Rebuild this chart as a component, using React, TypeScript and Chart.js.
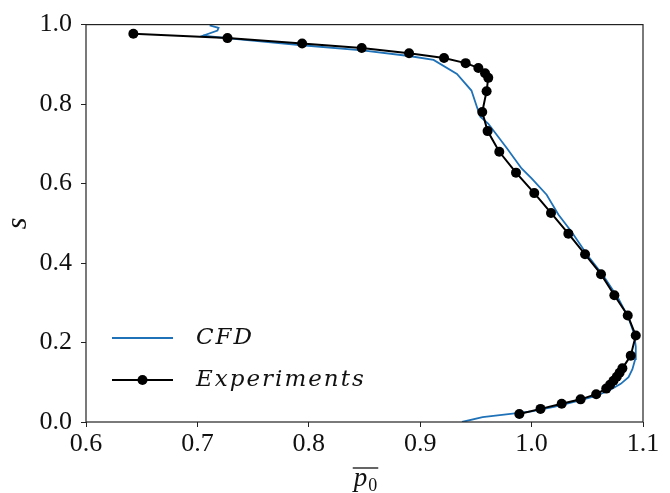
import React, { useEffect, useRef } from "react";
import { Chart, registerables } from "chart.js";

Chart.register(...registerables);

// CFD profile (p0 bar vs s), traced from bottom to top
const cfdX = [0.9375, 0.956, 0.983, 1.0, 1.02, 1.04, 1.057, 1.07, 1.08, 1.087, 1.0905, 1.093, 1.0935, 1.092, 1.087, 1.078, 1.064, 1.05, 1.036, 1.024, 1.0135, 1.0, 0.991, 0.978, 0.961, 0.954, 0.951, 0.946, 0.933, 0.912, 0.89, 0.848, 0.794, 0.74, 0.705, 0.718, 0.719, 0.711];
const cfdY = [0.0, 0.012, 0.021, 0.027, 0.038, 0.052, 0.065, 0.08, 0.096, 0.113, 0.133, 0.158, 0.19, 0.222, 0.262, 0.31, 0.37, 0.42, 0.478, 0.522, 0.572, 0.613, 0.638, 0.688, 0.751, 0.768, 0.792, 0.834, 0.876, 0.911, 0.921, 0.935, 0.948, 0.962, 0.972, 0.985, 0.992, 0.998];

// Experimental points, from bottom to top
const expX = [0.989, 1.008, 1.027, 1.044, 1.058, 1.067, 1.0705, 1.0735, 1.0765, 1.079, 1.0815, 1.089, 1.0935, 1.0863, 1.0743, 1.0623, 1.048, 1.033, 1.0174, 1.0024, 0.986, 0.971, 0.9605, 0.9557, 0.9596, 0.9611, 0.9582, 0.9522, 0.9408, 0.9214, 0.89, 0.8475, 0.794, 0.727, 0.6425];
const expY = [0.02, 0.033, 0.046, 0.057, 0.07, 0.084, 0.094, 0.104, 0.114, 0.124, 0.135, 0.167, 0.2175, 0.268, 0.319, 0.372, 0.422, 0.474, 0.526, 0.576, 0.6275, 0.68, 0.732, 0.78, 0.8325, 0.866, 0.8775, 0.891, 0.903, 0.916, 0.928, 0.941, 0.9525, 0.966, 0.977];

const seriesLabels = ["CFD", "Experiments"];
const xRange = [0.6, 1.1];
const yRange = [0.0, 1.0];
const yAxisLabel = "s";
const xAxisSymbol = "p";
const xAxisSubscript = "0";

const BLUE = "#1f72b8";
const TICK_FONT = { family: "'Liberation Serif', serif", size: 26 };

const framePlugin = {
  id: "frame",
  afterDatasetsDraw(chart: any) {
    const { ctx, chartArea } = chart;
    ctx.save();
    ctx.strokeStyle = "#222";
    ctx.lineWidth = 1.2;
    ctx.strokeRect(chartArea.left, chartArea.top, chartArea.right - chartArea.left, chartArea.bottom - chartArea.top);
    ctx.restore();
  },
};

const legendPlugin = {
  id: "mplLegend",
  afterDraw(chart: any) {
    const { ctx, chartArea } = chart;
    const ds = chart.data.datasets;
    const x0 = chartArea.left + 26;
    const x1 = x0 + 61;
    const tx = x1 + 23;
    const rows = [chartArea.bottom - 84, chartArea.bottom - 42];
    ctx.save();
    ds.forEach((d: any, i: number) => {
      const y = rows[i];
      ctx.strokeStyle = d.borderColor;
      ctx.lineWidth = d.borderWidth;
      ctx.beginPath();
      ctx.moveTo(x0, y);
      ctx.lineTo(x1, y);
      ctx.stroke();
      if (d.pointRadius > 0) {
        ctx.fillStyle = d.pointBackgroundColor;
        ctx.beginPath();
        ctx.arc((x0 + x1) / 2, y, d.pointRadius, 0, Math.PI * 2);
        ctx.fill();
      }
      ctx.fillStyle = "#111";
      ctx.font = "italic 23px 'DejaVu Serif', serif";
      try { (ctx as any).letterSpacing = "2px"; } catch (e) {}
      ctx.textBaseline = "middle";
      ctx.textAlign = "left";
      ctx.fillText(d.label, tx, y);
    });
    ctx.restore();
  },
};

const xTitlePlugin = {
  id: "xTitle",
  afterDraw(chart: any) {
    const { ctx, chartArea } = chart;
    const cx = (chartArea.left + chartArea.right) / 2;
    const base = chartArea.bottom + 64;
    ctx.save();
    ctx.fillStyle = "#111";
    ctx.textBaseline = "alphabetic";
    ctx.textAlign = "left";
    ctx.font = "italic 27px 'Liberation Serif', serif";
    const pw = ctx.measureText(xAxisSymbol).width;
    ctx.font = "18px 'Liberation Serif', serif";
    const sw = ctx.measureText(xAxisSubscript).width;
    const total = pw + 1 + sw;
    const sx = cx - total / 2 + 1;
    ctx.font = "italic 27px 'Liberation Serif', serif";
    ctx.fillText(xAxisSymbol, sx, base);
    ctx.font = "18px 'Liberation Serif', serif";
    ctx.fillText(xAxisSubscript, sx + pw + 1, base + 5);
    ctx.strokeStyle = "#111";
    ctx.lineWidth = 1.3;
    ctx.beginPath();
    ctx.moveTo(sx - 1, base - 18);
    ctx.lineTo(sx + total + 1, base - 18);
    ctx.stroke();
    ctx.restore();
  },
};

export default function App() {
  const ref = useRef<HTMLCanvasElement | null>(null);

  useEffect(() => {
    if (!ref.current) return;
    const chart = new Chart(ref.current, {
      type: "scatter",
      data: {
        datasets: [
          {
            label: seriesLabels[0],
            data: cfdX.map((x, i) => ({ x, y: cfdY[i] })),
            showLine: true,
            borderColor: BLUE,
            backgroundColor: BLUE,
            borderWidth: 1.8,
            pointRadius: 0,
            pointHoverRadius: 0,
            tension: 0,
            order: 2,
          },
          {
            label: seriesLabels[1],
            data: expX.map((x, i) => ({ x, y: expY[i] })),
            showLine: true,
            borderColor: "#000",
            backgroundColor: "#000",
            pointBackgroundColor: "#000",
            pointBorderWidth: 0,
            borderWidth: 2,
            pointRadius: 5,
            tension: 0,
            order: 1,
          },
        ],
      },
      options: {
        animation: false,
        responsive: false,
        layout: { padding: { top: 22, right: 27, left: 0, bottom: 0 } },
        plugins: { legend: { display: false }, tooltip: { enabled: false } },
        scales: {
          x: {
            type: "linear",
            min: xRange[0],
            max: xRange[1],
            afterFit: (s: any) => { s.height = 71; },
            border: { display: false },
            grid: { drawOnChartArea: false, drawTicks: true, tickLength: 5, color: "#222", lineWidth: 1 },
            ticks: {
              stepSize: 0.1,
              padding: 2,
              color: "#111",
              font: TICK_FONT,
              maxRotation: 0,
              callback: (v: any) => Number(v).toFixed(1),
            },
          },
          y: {
            type: "linear",
            min: yRange[0],
            max: yRange[1],
            afterFit: (s: any) => { s.width = 86; },
            border: { display: false },
            grid: { drawOnChartArea: false, drawTicks: true, tickLength: 5, color: "#222", lineWidth: 1 },
            title: {
              display: true,
              text: yAxisLabel,
              color: "#111",
              font: { family: "'Liberation Serif', serif", size: 30, style: "italic" },
              padding: { top: 0, bottom: 4 },
            },
            ticks: {
              stepSize: 0.2,
              padding: 9,
              color: "#111",
              font: TICK_FONT,
              callback: (v: any) => Number(v).toFixed(1),
            },
          },
        },
      },
      plugins: [framePlugin, legendPlugin, xTitlePlugin],
    });
    return () => chart.destroy();
  }, []);

  return (
    <div style={{ position: "fixed", left: 0, top: 0, width: 670, height: 493, background: "#fff" }}>
      <canvas ref={ref} width={670} height={493} style={{ display: "block" }} />
    </div>
  );
}
